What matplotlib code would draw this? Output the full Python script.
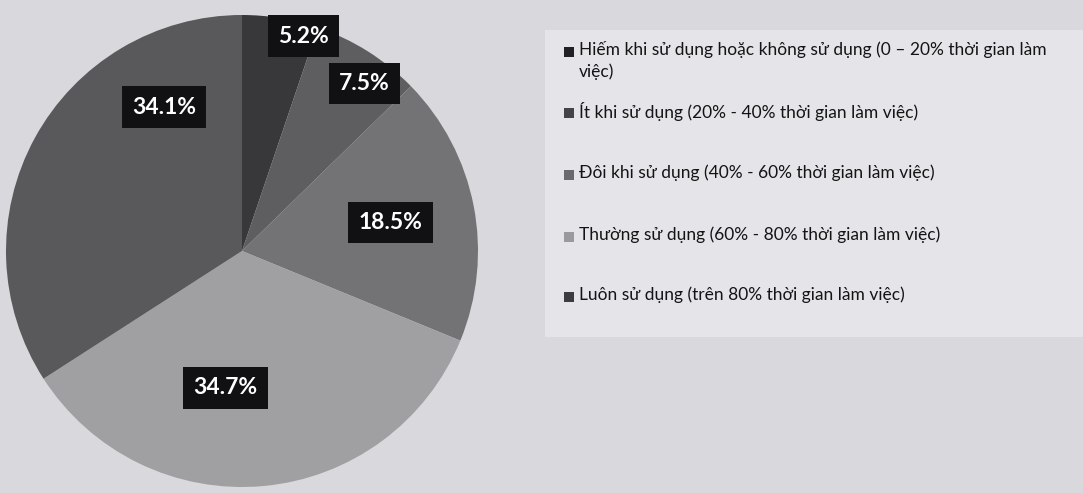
import matplotlib.pyplot as plt
from matplotlib.patches import Rectangle

# Data (clockwise from 12 o'clock)
labels = [
    "Hiếm khi sử dụng hoặc không sử dụng (0 – 20% thời gian làm\nviệc)",
    "Ít khi sử dụng (20% - 40% thời gian làm việc)",
    "Đôi khi sử dụng (40% - 60% thời gian làm việc)",
    "Thường sử dụng (60% - 80% thời gian làm việc)",
    "Luôn sử dụng (trên 80% thời gian làm việc)",
]
values = [5.2, 7.5, 18.5, 34.7, 34.1]
colors = ["#38383a", "#5e5e60", "#737375", "#a0a0a2", "#59595b"]
legend_colors = ["#222224", "#444446", "#6a6a6c", "#9a9a9c", "#3c3c3e"]

# where each percent box sits (offset from centre, in pie radii)
label_pos = [(0.26, 0.91), (0.52, 0.71), (0.63, 0.12), (-0.07, -0.58), (-0.33, 0.61)]

plt.rcParams["font.family"] = ["Lato", "DejaVu Sans"]

fig = plt.figure(figsize=(10.83, 4.93), dpi=100)
fig.patch.set_facecolor("#d9d9dd")

# lighter panel behind the legend
fig.patches.append(Rectangle((545 / 1083, 1 - 337 / 493), 538 / 1083, 307 / 493,
                             transform=fig.transFigure, facecolor="#e5e5e9",
                             edgecolor="none", zorder=0))

cx, cy, r = 242, 251, 236
ax = fig.add_axes([(cx - r) / 1083, (493 - cy - r) / 493, 2 * r / 1083, 2 * r / 493])
wedges, _ = ax.pie(values, colors=colors, startangle=90, counterclock=False,
                   radius=1.0, wedgeprops=dict(linewidth=0))
ax.set_aspect("equal")
ax.set_xlim(-1, 1)
ax.set_ylim(-1, 1)
ax.axis("off")

for v, (x, y) in zip(values, label_pos):
    ax.text(x, y, "{:.1f}%".format(v), ha="center", va="center", color="white",
            fontsize=16.5, fontweight="bold",
            bbox=dict(boxstyle="square,pad=0.45", facecolor="#111113", edgecolor="none"))

# legend
ys = [52, 113, 175, 237, 297]
for lab, c, y in zip(labels, legend_colors, ys):
    fig.patches.append(Rectangle((564 / 1083, 1 - (y + 5) / 493), 10 / 1083, 10 / 493,
                                 transform=fig.transFigure, facecolor=c,
                                 edgecolor="none"))
    fig.text(579 / 1083, 1 - (y - 11) / 493, lab, ha="left", va="top",
             fontsize=12.5, color="#141414", linespacing=1.4)

fig.savefig("out.png", dpi=100, facecolor=fig.get_facecolor())
